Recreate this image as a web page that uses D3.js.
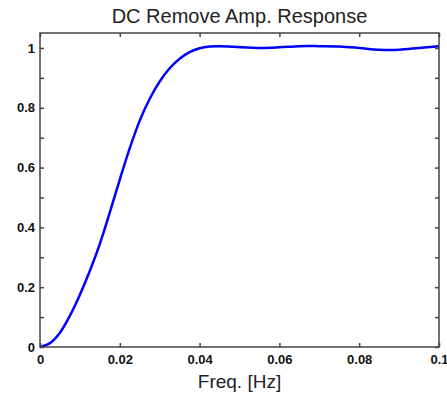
<!DOCTYPE html>
<html>
<head>
<meta charset="utf-8">
<script src="https://cdn.jsdelivr.net/npm/d3@7"></script>
<style>
  body { margin: 0; background: #fff; }
  svg { display: block; }
</style>
</head>
<body>
<div id="chart"></div>
<script>
// data
const freq = [0, 0.0025, 0.005, 0.0075, 0.010, 0.0125, 0.015, 0.0175, 0.020, 0.0225,
              0.025, 0.0275, 0.030, 0.0325, 0.035, 0.0375, 0.040, 0.0425, 0.045, 0.0485,
              0.055, 0.060, 0.065, 0.070, 0.075, 0.080, 0.085, 0.090, 0.095, 0.100]
const amp = [0, 0.013, 0.048, 0.105, 0.175, 0.255, 0.345, 0.45, 0.56, 0.665,
             0.757, 0.83, 0.888, 0.932, 0.964, 0.986, 0.999, 1.005, 1.006, 1.004,
             1.000, 1.002, 1.006, 1.006, 1.005, 1.000, 0.994, 0.994, 1.000, 1.006]
const xTicks = [0, 0.02, 0.04, 0.06, 0.08, 0.1]
const xTickLabels = ["0", "0.02", "0.04", "0.06", "0.08", "0.1"]
const yTicks = [0, 0.1, 0.2, 0.3, 0.4, 0.5, 0.6, 0.7, 0.8, 0.9, 1]
const yTickLabels = ["0", "", "0.2", "", "0.4", "", "0.6", "", "0.8", "", "1"]

const width = 447
const height = 394
const margin = {top: 33, right: 8, bottom: 47, left: 40}
const innerWidth = width - margin.left - margin.right
const innerHeight = height - margin.top - margin.bottom

const svg = d3.select("#chart").append("svg")
              .attr("width", width)
              .attr("height", height)
const chart = svg.append("g")
                 .attr("transform", `translate(${margin.left}, ${margin.top})`)

// scales
const xScale = d3.scaleLinear()
                 .domain([0, 0.1])
                 .range([0, innerWidth])
const yScale = d3.scaleLinear()
                 .domain([0, 1.05])
                 .range([innerHeight, 0])

// curve
const line = d3.line()
               .x((d, i) => xScale(freq[i]))
               .y((d, i) => yScale(amp[i]))
               .curve(d3.curveCatmullRom.alpha(0.5))
chart.append("path")
     .datum(amp)
     .attr("d", line)
     .attr("fill", "none")
     .attr("stroke", "#0000ff")
     .attr("stroke-width", 2.5)

// axes, ticks point inward like matlab
const tickLen = 4
const axisColor = "#444"
const bottomAxis = d3.axisBottom(xScale)
                     .tickValues(xTicks)
                     .tickFormat((d, i) => xTickLabels[i])
                     .tickSize(-tickLen)
                     .tickPadding(8)
const topAxis = d3.axisTop(xScale)
                  .tickValues(xTicks)
                  .tickSize(-tickLen)
const leftAxis = d3.axisLeft(yScale)
                   .tickValues(yTicks)
                   .tickFormat((d, i) => yTickLabels[i])
                   .tickSize(-tickLen)
                   .tickPadding(5)
const rightAxis = d3.axisRight(yScale)
                    .tickValues(yTicks)
                    .tickSize(-tickLen)

const gBottom = chart.append("g")
                     .attr("transform", `translate(0, ${innerHeight})`)
                     .call(bottomAxis)
const gTop = chart.append("g").call(topAxis)
const gLeft = chart.append("g").call(leftAxis)
const gRight = chart.append("g")
                    .attr("transform", `translate(${innerWidth}, 0)`)
                    .call(rightAxis)

// mirrored axes carry no labels
gTop.selectAll("text").remove()
gRight.selectAll("text").remove()
gLeft.selectAll("text").filter(function () { return this.textContent === "" }).remove()

for (const g of [gBottom, gTop, gLeft, gRight]) {
    g.select(".domain").remove()
    g.selectAll("line")
     .attr("stroke", axisColor)
     .attr("stroke-width", 1.5)
    g.selectAll("text")
     .attr("font-family", "Liberation Sans, Arial, sans-serif")
     .attr("font-weight", "bold")
     .attr("font-size", "13px")
     .attr("fill", "#111")
}

// frame
chart.append("rect")
     .attr("x", 0)
     .attr("y", 0)
     .attr("width", innerWidth)
     .attr("height", innerHeight)
     .attr("fill", "none")
     .attr("stroke", axisColor)
     .attr("stroke-width", 1.5)

// title and label
svg.append("text")
   .attr("x", margin.left + innerWidth / 2)
   .attr("y", 23)
   .attr("text-anchor", "middle")
   .attr("font-family", "Liberation Sans, Arial, sans-serif")
   .attr("font-size", "20px")
   .attr("fill", "#222")
   .text("DC Remove Amp. Response")
svg.append("text")
   .attr("x", margin.left + innerWidth / 2)
   .attr("y", 388)
   .attr("text-anchor", "middle")
   .attr("font-family", "Liberation Sans, Arial, sans-serif")
   .attr("font-size", "19px")
   .attr("fill", "#222")
   .text("Freq. [Hz]")
</script>
</body>
</html>
